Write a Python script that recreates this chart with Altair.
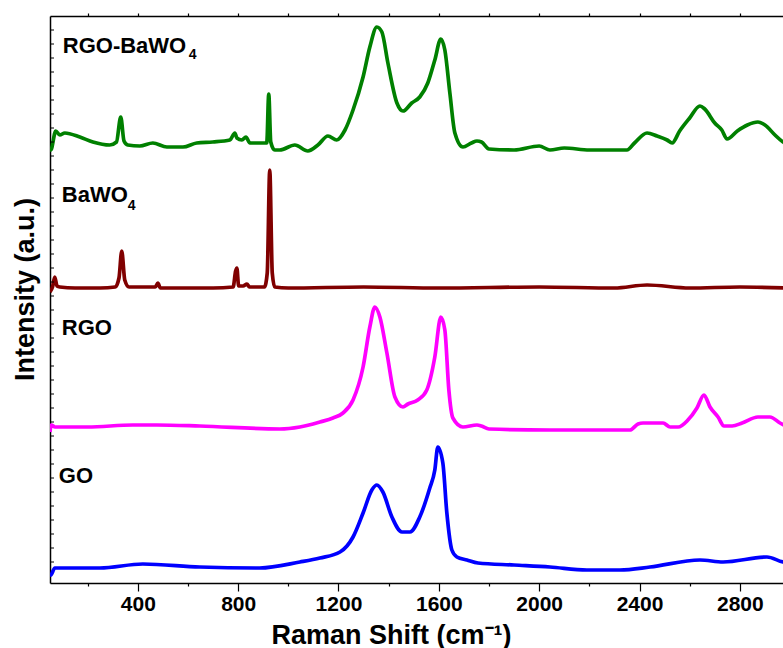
import altair as alt
import pandas as pd

# ---------------- data (Raman shift in cm^-1, intensity in arbitrary offset units) ----------------
series_names = ["RGO-BaWO4", "BaWO4", "RGO", "GO"]
series_colors = ["#008000", "#800000", "#ff00ff", "#0000ff"]

comp_x = [50, 53, 73, 89, 109, 169, 221, 288, 315, 332, 345, 360, 408, 460, 516, 580, 635, 699, 767,
          787, 795, 815, 831, 847, 900, 914, 922, 930, 946, 966, 1026, 1078, 1118, 1158, 1193, 1226,
          1258, 1298, 1325, 1353, 1373, 1397, 1433, 1457, 1492, 1524, 1556, 1584, 1608, 1624, 1644,
          1664, 1696, 1730, 1752, 1770, 1800, 1900, 2000, 2043, 2100, 2200, 2350, 2380, 2430, 2470,
          2510, 2530, 2560, 2600, 2641, 2660, 2700, 2728, 2749, 2790, 2830, 2872, 2900, 2940, 2972, 3000]
comp_y = [433, 433, 452, 448, 450, 446, 441, 438, 441, 466, 442, 438, 437, 440, 436, 436, 440, 441, 443,
          450, 445, 443, 446, 440, 440, 440, 489, 441, 433, 433, 438, 432, 438, 447, 443, 453,
          473, 506, 536, 556, 551, 520, 480, 472, 480, 486, 500, 523, 544, 533, 490,
          450, 436, 440, 442, 441, 434, 433, 437, 433, 435, 433, 433, 440, 450, 447,
          443, 440, 452, 465, 477, 474, 460, 453, 444, 452, 458, 461, 458, 448, 441, 438]

bawo_x = [50, 60, 69, 78, 89, 150, 250, 310, 325, 336, 348, 365, 470, 480, 490, 700, 780, 790, 795,
          802, 820, 835, 845, 905, 916, 926, 936, 946, 1000, 1300, 1600, 2000, 2300, 2430, 2600, 2800, 3000]
bawo_y = [291, 296, 306, 297, 296, 295, 295, 296, 305, 332, 303, 296, 296, 300, 295, 295, 296, 312, 315,
          297, 297, 299, 296, 296, 310, 413, 310, 296, 295, 296, 295, 296, 295, 298, 295, 296, 295]

rgo_x = [50, 55, 70, 200, 380, 476, 647, 966, 1046, 1126, 1178, 1218, 1258, 1298, 1325, 1345, 1365,
         1393, 1425, 1457, 1477, 1516, 1552, 1584, 1608, 1624, 1640, 1656, 1696, 1752, 1770, 1800,
         2043, 2362, 2394, 2414, 2494, 2522, 2554, 2593, 2629, 2657, 2681, 2713, 2737, 2769, 2809,
         2872, 2920, 2960, 3000]
rgo_y = [151, 158, 156, 156, 158, 158, 157, 154, 156, 161, 165, 170, 183, 216, 256, 276, 266,
         230, 186, 176, 179, 183, 193, 226, 266, 253, 193, 165, 156, 158, 157, 154,
         153, 153, 159, 160, 160, 156, 156, 163, 175, 188, 176, 166, 157, 157, 160,
         166, 166, 160, 155]

go_x = [50, 53, 69, 249, 420, 647, 886, 1046, 1126, 1206, 1258, 1298, 1333, 1353, 1377, 1413, 1453,
        1485, 1524, 1564, 1584, 1596, 1616, 1632, 1652, 1672, 1712, 1756, 1900, 2043, 2190, 2322,
        2442, 2641, 2733, 2908, 2972, 3000]
go_y = [8, 8, 15, 15, 19, 16, 15, 21, 25, 31, 46, 70, 93, 98, 91, 66, 51,
        51, 66, 95, 113, 136, 120, 70, 33, 26, 23, 20, 18, 16, 13, 13,
        16, 23, 21, 26, 21, 20]

# annotations
label_text = ["RGO-BaWO", "BaWO", "RGO", "GO"]
label_x = [101, 97, 97, 85]
label_y = [530, 381, 248, 100]
sub_text = ["4", "4"]
sub_x = [603, 360]
sub_y = [524, 373]

x_ticks = list(range(200, 3000, 200))
y_ticks = list(range(21, 567, 14))

# ---------------- tables ----------------
rows = []
for name, xs, ys in zip(series_names, [comp_x, bawo_x, rgo_x, go_x], [comp_y, bawo_y, rgo_y, go_y]):
    for a, b in zip(xs, ys):
        rows.append({"series": name, "x": a, "y": b})
df = pd.DataFrame(rows)
lab_df = pd.DataFrame({"x": label_x, "y": label_y, "text": label_text})
sub_df = pd.DataFrame({"x": sub_x, "y": sub_y, "text": sub_text})
ytick_df = pd.DataFrame({"y": y_ticks})

FONT = "Liberation Sans"
xscale = alt.Scale(domain=[50, 2972], nice=False, zero=False)
yscale = alt.Scale(domain=[0, 567], nice=False, zero=False)

yaxis = alt.Axis(ticks=False, labels=False, grid=False,
                 title="Intensity (a.u.)", titleAngle=-90, titleX=-25, titleY=273,
                 titleBaseline="middle", titleAlign="center")


def ych():
    return alt.Y("y:Q", scale=yscale, axis=yaxis)


lines = alt.Chart(df).mark_line(strokeWidth=3.7, interpolate="monotone", clip=True).encode(
    x=alt.X("x:Q", scale=xscale, axis=alt.Axis(
        orient="bottom", values=x_ticks, format="d",
        labelExpr="datum.value % 400 === 0 ? datum.label : ''",
        tickSize={"condition": {"test": "datum.value % 400 === 0", "value": 8}, "value": 3},
        labelPadding=2, grid=False,
        title="Raman Shift (cm⁻¹)", titleX=341, titleY=60, titleBaseline="alphabetic",
        titleAlign="center")),
    y=ych(),
    color=alt.Color("series:N", scale=alt.Scale(domain=series_names, range=series_colors), legend=None),
)

top_axis = alt.Chart(df).mark_point(opacity=0).encode(
    x=alt.X("x:Q", scale=xscale, axis=alt.Axis(orient="top", values=x_ticks, labels=False,
                                                 title=None, tickSize=3, grid=False)),
    y=ych(),
)

yticks = alt.Chart(ytick_df).mark_rule(color="black", strokeWidth=1).encode(
    y=ych(),
    x=alt.value(0), x2=alt.value(4),
)

labels = alt.Chart(lab_df).mark_text(align="left", baseline="alphabetic", font=FONT,
                                      fontWeight="bold", fontSize=22, color="black").encode(
    x=alt.X("x:Q", scale=xscale, axis=None),
    y=ych(),
    text="text:N",
)

subs = alt.Chart(sub_df).mark_text(align="left", baseline="alphabetic", font=FONT,
                                    fontWeight="bold", fontSize=14, color="black").encode(
    x=alt.X("x:Q", scale=xscale, axis=None),
    y=ych(),
    text="text:N",
)

chart = alt.layer(lines, top_axis, yticks, labels, subs).resolve_scale(x="independent").properties(
    width=733, height=567,
    autosize=alt.AutoSizeParams(type="none"),
    padding={"left": 50, "top": 16, "right": 0, "bottom": 65},
).configure_view(stroke=None).configure_axis(
    domainColor="black", domainWidth=1.5, tickColor="black", tickWidth=1.2,
    labelFont=FONT, labelFontWeight="bold", labelFontSize=21, labelColor="black",
    titleFont=FONT, titleFontWeight="bold", titleFontSize=27, titleColor="black",
)

chart.save("out.html", embed_options={"renderer": "svg", "actions": False})
